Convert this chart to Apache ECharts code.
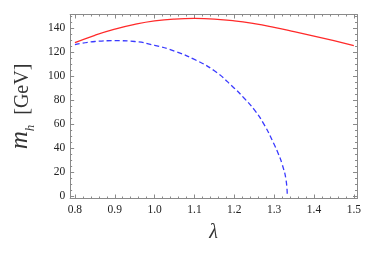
<!DOCTYPE html>
<html><head><meta charset="utf-8">
<script src="https://cdn.jsdelivr.net/npm/echarts@6/dist/echarts.min.js"></script>
<style>html,body{margin:0;padding:0;background:#fff}#c{width:374px;height:253px}</style>
</head><body><div id="c"></div>
<script>
// data
const redLambda = [0.8, 0.85, 0.9, 0.95, 1.0, 1.05, 1.1, 1.15, 1.2, 1.25, 1.3, 1.35, 1.4, 1.45, 1.5];
const redMass   = [128.0, 134.2, 139.3, 143.3, 146.2, 147.8, 148.3, 147.8, 146.3, 143.9, 140.8, 137.3, 133.6, 129.7, 125.6];
const blueLambda = [0.8, 0.85, 0.9, 0.95, 1.0, 1.05, 1.1, 1.15, 1.2, 1.225, 1.25, 1.275, 1.3, 1.31, 1.32, 1.33, 1.333];
const blueMass   = [126.4, 129.0, 129.7, 129.0, 125.8, 121.0, 114.0, 104.5, 90.0, 81.5, 72.0, 59.5, 43.0, 35.5, 26.5, 13.0, 0.0];
const xTicks = [0.8, 0.9, 1.0, 1.1, 1.2, 1.3, 1.4, 1.5];
const yTicks = [0, 20, 40, 60, 80, 100, 120, 140];
const xMinor = [];
for (let i = 0; i <= 36; i++) xMinor.push(+(0.78 + i * 0.02).toFixed(2));
const yMinor = [];
for (let v = 0; v <= 150; v += 5) yMinor.push(v);

const frame = '#8a8a8a';
const serif = "'Liberation Serif', 'Times New Roman', Times, serif";

function xAx(pos, labels, ticks, len, line) {
  return {
    type: 'value', position: pos, min: 0.788, max: 1.508,
    axisLine: {show: line, onZero: false, lineStyle: {color: frame, width: 1}},
    axisTick: {show: true, inside: true, length: len, customValues: ticks, lineStyle: {color: frame, width: 1}},
    axisLabel: labels ? {show: true, customValues: xTicks, margin: 5, color: '#222', fontFamily: serif, fontSize: 11.5,
      formatter: v => v.toFixed(1)} : {show: false},
    splitLine: {show: false}
  };
}
function yAx(pos, labels, ticks, len, line) {
  return {
    type: 'value', position: pos, min: -2.3, max: 151.6,
    axisLine: {show: line, onZero: false, lineStyle: {color: frame, width: 1}},
    axisTick: {show: true, inside: true, length: len, customValues: ticks, lineStyle: {color: frame, width: 1}},
    axisLabel: labels ? {show: true, customValues: yTicks, margin: 5, color: '#222', fontFamily: serif, fontSize: 11.5,
      formatter: v => String(Math.round(v))} : {show: false},
    splitLine: {show: false}
  };
}

const xAxes = [xAx('bottom', true, xTicks, 4, true), xAx('bottom', false, xMinor, 2, false),
               xAx('top', false, xTicks, 4, true), xAx('top', false, xMinor, 2, false)];
xAxes[0].name = 'λ';
xAxes[0].nameLocation = 'middle';
xAxes[0].nameGap = 24;
xAxes[0].nameTextStyle = {fontFamily: serif, fontStyle: 'italic', fontSize: 20, color: '#333'};

const yAxes = [yAx('left', true, yTicks, 4, true), yAx('left', false, yMinor, 2, false),
               yAx('right', false, yTicks, 4, true), yAx('right', false, yMinor, 2, false)];
yAxes[0].name = '{m|m}{h|h}{g|  [GeV]}';
yAxes[0].nameLocation = 'middle';
yAxes[0].nameGap = 29;
yAxes[0].nameTextStyle = {
  color: '#333',
  rich: {
    m: {fontFamily: serif, fontStyle: 'italic', fontSize: 25, color: '#333', lineHeight: 24, verticalAlign: 'bottom'},
    h: {fontFamily: serif, fontStyle: 'italic', fontSize: 13, color: '#333', lineHeight: 13, verticalAlign: 'bottom', padding: [0, 0, -4, 0]},
    g: {fontFamily: serif, fontSize: 20, color: '#333', lineHeight: 24, verticalAlign: 'bottom'}
  }
};

const chart = echarts.init(document.getElementById('c'), null, {renderer: 'canvas'});
chart.setOption({
  animation: false,
  backgroundColor: '#fff',
  grid: {left: 59.5, right: 17, top: 14.5, bottom: 54.5, containLabel: false},
  xAxis: xAxes,
  yAxis: yAxes,
  series: [
    {type: 'line', xAxisIndex: 0, yAxisIndex: 0, data: redLambda.map((x, i) => [x, redMass[i]]),
     smooth: true, showSymbol: false, symbol: 'none', lineStyle: {color: '#ff2a2a', width: 1.3}},
    {type: 'line', xAxisIndex: 0, yAxisIndex: 0, data: blueLambda.map((x, i) => [x, blueMass[i]]),
     smooth: true, showSymbol: false, symbol: 'none', lineStyle: {color: '#3a3aff', width: 1.3, type: [5, 3]}}
  ]
});
</script></body></html>
